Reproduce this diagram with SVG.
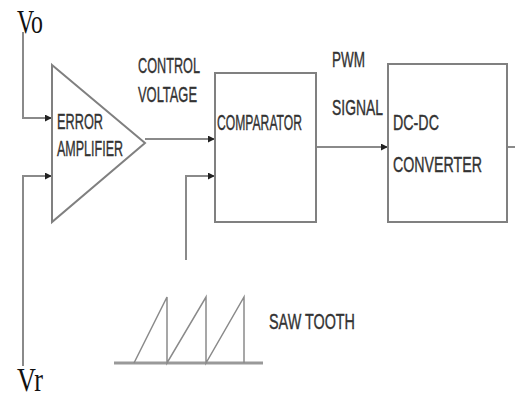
<svg xmlns="http://www.w3.org/2000/svg" width="515" height="396" viewBox="0 0 515 396">
<style>
.ln{fill:none;stroke:#8a8a8a;stroke-width:2}
.bx{fill:#fff;stroke:#808080;stroke-width:2}
.t{font-family:"Liberation Sans",Arial,sans-serif;font-size:22px;fill:#333;stroke:#333;stroke-width:0.4}
.s{font-family:"Liberation Serif","Times New Roman",serif;font-size:34px;fill:#111}
</style>
<defs>
<marker id="ar" viewBox="0 0 8 8" refX="7" refY="4" markerWidth="7" markerHeight="7" markerUnits="userSpaceOnUse" orient="auto">
<path d="M0,0 L8,4 L0,8 z" fill="#222"/>
</marker>
</defs>
<rect width="515" height="396" fill="#fff"/>
<g id="connectors">
<polyline class="ln" points="23,32 23,118 51,118" marker-end="url(#ar)"/>
<polyline class="ln" points="23,366 23,176 51,176" marker-end="url(#ar)"/>
<line class="ln" x1="145" y1="139" x2="214" y2="139" marker-end="url(#ar)"/>
<polyline class="ln" points="186,260 186,176 214,176" marker-end="url(#ar)"/>
<line class="ln" x1="316" y1="147" x2="387" y2="147" marker-end="url(#ar)"/>
<line class="ln" x1="507" y1="147" x2="515" y2="147"/>
</g>
<g id="vo"><text class="s" x="17" y="33" textLength="26" lengthAdjust="spacingAndGlyphs">Vo</text></g>
<g id="vr"><text class="s" x="17" y="391" textLength="26" lengthAdjust="spacingAndGlyphs">Vr</text></g>
<g id="error-amplifier">
<polygon class="bx" points="52,65 145,143 52,222"/>
<text class="t" x="57" y="129" textLength="46" lengthAdjust="spacingAndGlyphs">ERROR</text>
<text class="t" x="57" y="156" textLength="66" lengthAdjust="spacingAndGlyphs">AMPLIFIER</text>
</g>
<g id="control-voltage">
<text class="t" x="138" y="73" textLength="62" lengthAdjust="spacingAndGlyphs">CONTROL</text>
<text class="t" x="138" y="102" textLength="59" lengthAdjust="spacingAndGlyphs">VOLTAGE</text>
</g>
<g id="comparator">
<rect class="bx" x="215" y="73" width="101" height="149"/>
<text class="t" x="217" y="130" textLength="85" lengthAdjust="spacingAndGlyphs">COMPARATOR</text>
</g>
<g id="pwm-signal">
<text class="t" x="332" y="67" textLength="33" lengthAdjust="spacingAndGlyphs">PWM</text>
<text class="t" x="332" y="115" textLength="51" lengthAdjust="spacingAndGlyphs">SIGNAL</text>
</g>
<g id="dc-dc-converter">
<rect class="bx" x="388" y="64" width="119" height="158"/>
<text class="t" x="393" y="130" textLength="46" lengthAdjust="spacingAndGlyphs">DC-DC</text>
<text class="t" x="393" y="172" textLength="89" lengthAdjust="spacingAndGlyphs">CONVERTER</text>
</g>
<g id="sawtooth">
<line x1="114" y1="363" x2="263" y2="363" stroke="#999" stroke-width="3"/>
<polyline class="ln" style="stroke-width:1.5" points="134,363 167,297 167,363 206,297 206,363 244,297 244,363"/>
<text class="t" x="269" y="329" textLength="86" lengthAdjust="spacingAndGlyphs">SAW TOOTH</text>
</g>
</svg>
